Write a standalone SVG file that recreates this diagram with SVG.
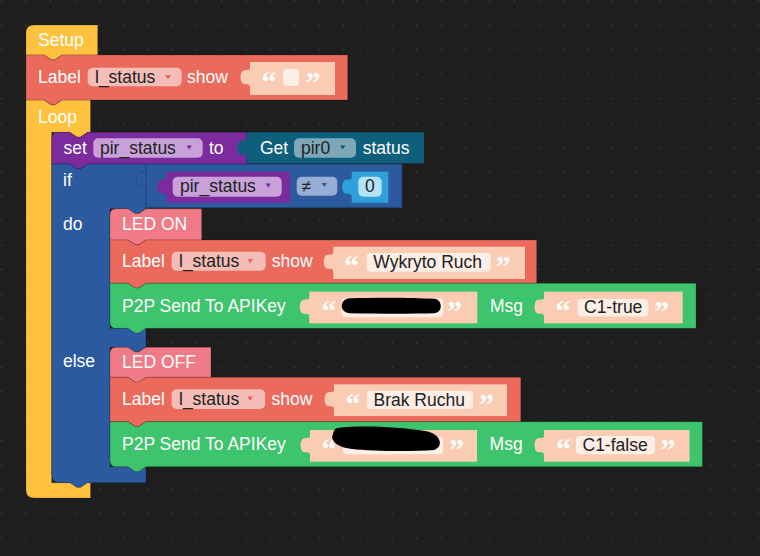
<svg xmlns="http://www.w3.org/2000/svg" xmlns:xlink="http://www.w3.org/1999/xlink" width="760" height="556" viewBox="0 0 760 556">
<defs>
<pattern id="grid" x="1" y="0.4" width="24.42" height="24.42" patternUnits="userSpaceOnUse"><rect width="1.2" height="1.2" fill="#4a4a4a"/></pattern>
<path id="knob" d="M1,0 H0 C0,3 -3,1.5 -6.5,2.5 C-10.5,3.5 -10.5,15 -6.5,16 C-3,17 0,15.5 0,19 H1 Z"/>
<style>
.blk{stroke:rgba(0,0,0,0.18);stroke-width:1}
.t{font-family:"Liberation Sans",Arial,sans-serif;font-size:17.5px;fill:#fff}
.d{fill:#222}
.q{font-family:"Liberation Serif","Times New Roman",serif;font-weight:bold;font-size:30px;fill:#fff}
.yel{fill:#fec23e}.red{fill:#eb6a5c}.peach{fill:#f9ccb3}.grn{fill:#3ec46c}.pink{fill:#f07b87}
.pur{fill:#7b2b9d}.teal{fill:#0d5f7b}.blue{fill:#2b5a9f}.cyan{fill:#2ea1db}
.rpill{fill:#f5bdb7}.spill{fill:#fdeee6}.ppill{fill:#c8a1d9}.tpill{fill:#7ea8b8}.bpill{fill:#98add2}.cpill{fill:#b4e2f7}
</style>
</defs>
<rect width="760" height="556" fill="#1e1e1e"/>
<rect width="760" height="556" fill="url(#grid)"/>
<g id="connectors"/>

<g id="loop">
<path class="yel blk" d="M26,100 H44 L51.2,104.8 H54.8 L62,100 H90.5 V132.3 H87.7 L80.5,137.1 H76.9 L69.7,132.3 H51.7 V482.7 H90.5 V498 H34 Q26,498 26,490 Z"/>
<text class="t" x="38" y="123">Loop</text>
</g>

<g id="setup">
<path class="yel blk" d="M26,55 V33 Q26,25 34,25 H97.7 V55 H62 L54.8,59.8 H51.2 L44,55 Z"/>
<text class="t" x="38" y="46">Setup</text>
</g>

<g id="label-init">
<path class="red blk" d="M26,55 H44 L51.2,59.8 H54.8 L62,55 H347.7 V100 H62 L54.8,104.8 H51.2 L44,100 H26 Z"/>
<text class="t" x="38" y="83">Label</text>
<rect class="rpill" x="87.7" y="67.7" width="94" height="18.6" rx="5"/>
<text class="t d" x="95" y="83">l_status</text>
<polygon points="165,75 171,75 168,79.5" fill="#e8675a"/>
<text class="t" x="187" y="83">show</text>
<use xlink:href="#knob" href="#knob" x="250" y="68" class="peach"/>
<rect class="peach" x="250" y="62" width="85" height="33"/>
<text class="q" x="261.5" y="92">“</text>
<rect class="spill" x="283" y="69" width="16" height="17" rx="4"/>
<text class="q" x="305.5" y="92">”</text>
</g>

<g id="set-pir">
<path class="pur blk" d="M51.7,138.3 Q51.7,132.3 57.7,132.3 H69.7 L76.9,137.1 H80.5 L87.7,132.3 H246.7 V164 H87.7 L80.5,168.8 H76.9 L69.7,164 H51.7 Z"/>
<text class="t" x="63.5" y="154">set</text>
<rect class="ppill" x="93.3" y="138.3" width="109.4" height="19.4" rx="5"/>
<text class="t d" x="100" y="154">pir_status</text>
<polygon points="186.5,145.5 192,145.5 189.2,149.5" fill="#7b2b9d"/>
<text class="t" x="209" y="154">to</text>
</g>

<g id="get-pir0">
<use xlink:href="#knob" href="#knob" x="246.7" y="138.5" class="teal"/>
<rect class="teal" x="246.7" y="132.3" width="177.3" height="31"/>
<text class="t" x="260" y="154">Get</text>
<rect class="tpill" x="294" y="138.3" width="62" height="19.4" rx="5"/>
<text class="t d" x="301" y="154">pir0</text>
<polygon points="340,145.5 345.5,145.5 342.7,149.5" fill="#0d5f7b"/>
<text class="t" x="362.7" y="154">status</text>
</g>

<g id="if-else">
<path class="blue blk" d="M51.7,164 H69.7 L76.9,168.8 H80.5 L87.7,164 H146 V208.8 L138.8,213.6 H135.2 L128,208.8 H110 V328.3 H146 V347.3 L138.8,352.1 H135.2 L128,347.3 H110 V466.7 H146 V482.7 H87.7 L80.5,487.5 H76.9 L69.7,482.7 H59.7 Q51.7,482.7 51.7,474.7 Z"/>
<text class="t" x="63" y="185.5">if</text>
<text class="t" x="63" y="229.5">do</text>
<text class="t" x="63" y="367">else</text>
</g>

<g id="compare">
<use xlink:href="#knob" href="#knob" x="146" y="170" fill="#2b5a9f" stroke="#1e4a85" stroke-width="0.8"/>
<rect x="146" y="164.3" width="255.7" height="43" fill="#2b5a9f" stroke="#1e4a85" stroke-width="1"/>
<rect class="bpill" x="296.7" y="176.7" width="40.6" height="19" rx="5"/>
<text class="t d" x="301.5" y="192">≠</text>
<polygon points="321.5,183 327,183 324.2,187" fill="#2b5a9f"/>
</g>

<g id="var-pir-status">
<use xlink:href="#knob" href="#knob" x="166.7" y="177.5" class="pur"/>
<rect class="pur" x="166.7" y="171.7" width="123.3" height="31"/>
<rect class="ppill" x="172.7" y="176.7" width="109" height="20" rx="5"/>
<text class="t d" x="180" y="192">pir_status</text>
<polygon points="265.5,183.5 271,183.5 268.2,187.5" fill="#7b2b9d"/>
</g>

<g id="num-0">
<use xlink:href="#knob" href="#knob" x="351.7" y="177.5" class="cyan"/>
<rect class="cyan" x="351.7" y="171.7" width="36.6" height="31"/>
<rect class="cpill" x="358.3" y="176.7" width="23.4" height="20" rx="5"/>
<text class="t d" x="365" y="192">0</text>
</g>

<g id="led-on">
<path class="pink blk" d="M110,214.8 Q110,208.8 116,208.8 H128 L135.2,213.6 H138.8 L146,208.8 H201.7 V240 H146 L138.8,244.8 H135.2 L128,240 H110 Z"/>
<text class="t" x="122" y="230">LED ON</text>
</g>

<g id="label-on">
<path class="red blk" d="M110,240 H128 L135.2,244.8 H138.8 L146,240 H536.7 V283.3 H146 L138.8,288.1 H135.2 L128,283.3 H110 Z"/>
<text class="t" x="122" y="267">Label</text>
<rect class="rpill" x="171.7" y="251.7" width="94" height="19" rx="5"/>
<text class="t d" x="179" y="267">l_status</text>
<polygon points="247.5,259 253,259 250.2,263.5" fill="#e8675a"/>
<text class="t" x="271.7" y="267">show</text>
<use xlink:href="#knob" href="#knob" x="333.3" y="252.5" class="peach"/>
<rect class="peach" x="333.3" y="246.7" width="191.7" height="32.3"/>
<text class="q" x="344" y="276">“</text>
<rect class="spill" x="366.7" y="253" width="124" height="18.7" rx="4"/>
<text class="t d" x="373.3" y="267.5">Wykryto Ruch</text>
<text class="q" x="495.5" y="276">”</text>
</g>

<g id="p2p-on">
<path class="grn blk" d="M110,283.3 H128 L135.2,288.1 H138.8 L146,283.3 H696 V328.3 H146 L138.8,333.1 H135.2 L128,328.3 H116 Q110,328.3 110,322.3 Z"/>
<text class="t" x="122" y="312">P2P Send To APIKey</text>
<use xlink:href="#knob" href="#knob" x="309.3" y="297.5" class="peach"/>
<rect class="peach" x="309.3" y="291.7" width="168" height="31.6"/>
<text class="q" x="321.5" y="321">“</text>
<rect class="spill" x="341.7" y="298.3" width="101.6" height="19" rx="4"/>
<path fill="#000" d="M350,298.3 C375,297.3 415,297.5 434,298.8 C443,299.5 443,313 434,313.3 C410,314 375,313.8 350,313.3 C339,313 339,298.8 350,298.3 Z"/>
<text class="q" x="447" y="321">”</text>
<text class="t" x="490" y="312">Msg</text>
<use xlink:href="#knob" href="#knob" x="544" y="297.5" class="peach"/>
<rect class="peach" x="544" y="291.7" width="138.7" height="31.6"/>
<text class="q" x="555.5" y="321">“</text>
<rect class="spill" x="577.7" y="299" width="70.6" height="17.5" rx="4"/>
<text class="t d" x="584" y="312.5">C1-true</text>
<text class="q" x="654" y="321">”</text>
</g>

<g id="led-off">
<path class="pink blk" d="M110,353.3 Q110,347.3 116,347.3 H128 L135.2,352.1 H138.8 L146,347.3 H211 V377.3 H146 L138.8,382.1 H135.2 L128,377.3 H110 Z"/>
<text class="t" x="122" y="368">LED OFF</text>
</g>

<g id="label-off">
<path class="red blk" d="M110,377.3 H128 L135.2,382.1 H138.8 L146,377.3 H520.8 V421.7 H146 L138.8,426.5 H135.2 L128,421.7 H110 Z"/>
<text class="t" x="122" y="405">Label</text>
<rect class="rpill" x="171.6" y="389.3" width="93.6" height="19.7" rx="5"/>
<text class="t d" x="179" y="405">l_status</text>
<polygon points="247.5,396.5 253,396.5 250.2,401" fill="#e8675a"/>
<text class="t" x="271.6" y="405">show</text>
<use xlink:href="#knob" href="#knob" x="334" y="390" class="peach"/>
<rect class="peach" x="334" y="384.3" width="173" height="31.7"/>
<text class="q" x="345.5" y="414">“</text>
<rect class="spill" x="367" y="390.7" width="106" height="18.3" rx="4"/>
<text class="t d" x="373.5" y="405.5">Brak Ruchu</text>
<text class="q" x="479" y="414">”</text>
</g>

<g id="p2p-off">
<path class="grn blk" d="M110,421.7 H128 L135.2,426.5 H138.8 L146,421.7 H702.4 V466.7 H146 L138.8,471.5 H135.2 L128,466.7 H116 Q110,466.7 110,460.7 Z"/>
<text class="t" x="122" y="450">P2P Send To APIKey</text>
<use xlink:href="#knob" href="#knob" x="310" y="436" class="peach"/>
<rect class="peach" x="310" y="430" width="167" height="31.7"/>
<text class="q" x="321.5" y="459">“</text>
<rect class="spill" x="343" y="436.7" width="100" height="17.6" rx="4"/>
<path fill="#000" d="M338,428 C360,425 400,427 425,431 C440,433 445,446 434,450 C410,452 370,451 352,449 C336,447 330,440 333,434 C334,430 335,428.5 338,428 Z"/>
<text class="q" x="449" y="459">”</text>
<text class="t" x="489.6" y="450">Msg</text>
<use xlink:href="#knob" href="#knob" x="544" y="436" class="peach"/>
<rect class="peach" x="544" y="430" width="145.6" height="31.7"/>
<text class="q" x="556" y="459">“</text>
<rect class="spill" x="576" y="436" width="79" height="18.3" rx="4"/>
<text class="t d" x="582.5" y="450.5">C1-false</text>
<text class="q" x="660.5" y="459">”</text>
</g>
</svg>
